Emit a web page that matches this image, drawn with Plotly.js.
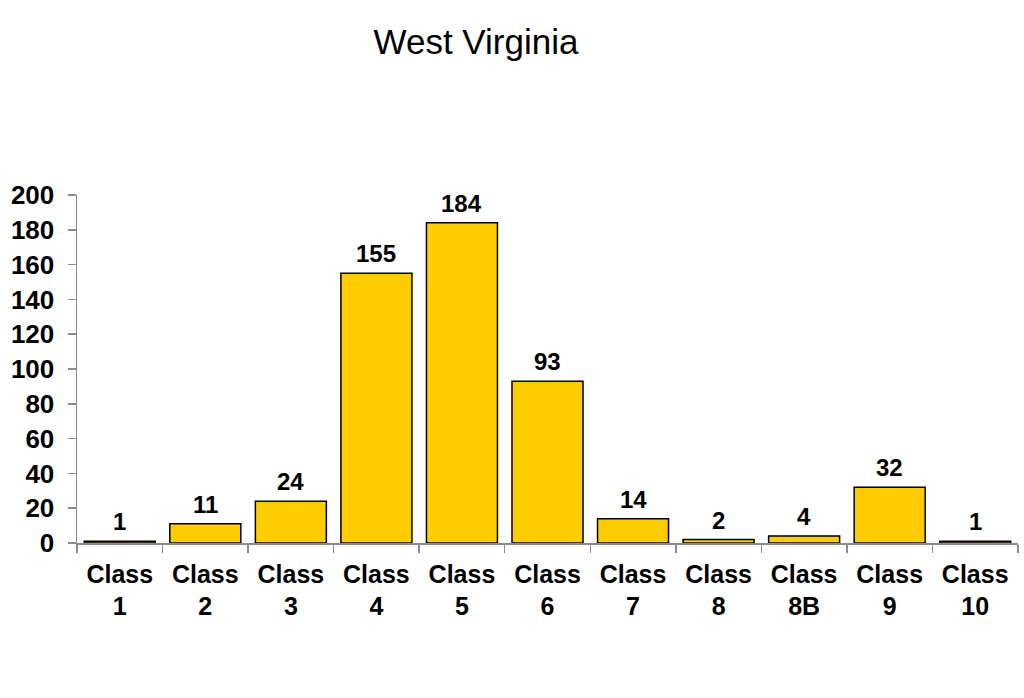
<!DOCTYPE html>
<html>
<head>
<meta charset="utf-8">
<script src="https://cdn.plot.ly/plotly-3.0.1.min.js"></script>
<style>html,body{margin:0;padding:0;background:#fff;}#chart{width:1024px;height:698px;}</style>
</head>
<body>
<div id="chart"></div>
<script>
const categories = ["Class<br>1","Class<br>2","Class<br>3","Class<br>4","Class<br>5","Class<br>6","Class<br>7","Class<br>8","Class<br>8B","Class<br>9","Class<br>10"];
const values = [1, 11, 24, 155, 184, 93, 14, 2, 4, 32, 1];
const yTicks = [0, 20, 40, 60, 80, 100, 120, 140, 160, 180, 200];

const FONT = "Liberation Sans, Arial, sans-serif";

const trace = {
  type: "bar",
  x: categories,
  y: values,
  marker: {color: "#FFCC00", line: {color: "#000000", width: 1.5}},
  hoverinfo: "none"
};

const annotations = values.map((v, i) => ({
  x: categories[i], y: v, xref: "x", yref: "y",
  text: "<b>" + v + "</b>", showarrow: false,
  yanchor: "bottom", yshift: 4,
  font: {family: FONT, size: 24, color: "#000"}
}));

const layout = {
  width: 1024, height: 698,
  margin: {l: 77, r: 6, t: 195, b: 155},
  paper_bgcolor: "#fff", plot_bgcolor: "#fff",
  showlegend: false,
  bargap: 0.17,
  title: {text: "West Virginia", x: 476/1024, xref: "container", xanchor: "center", y: 0.94, yanchor: "middle",
          font: {family: FONT, size: 35, color: "#000"}},
  xaxis: {
    type: "category",
    showline: true, linecolor: "#8c8c8c", linewidth: 1.5,
    ticks: "outside", tickson: "boundaries", ticklen: 8, tickcolor: "#8c8c8c", tickwidth: 1.5,
    showgrid: false, zeroline: false,
    tickfont: {family: FONT, size: 25, color: "#000", weight: "bold"},
    ticklabelstandoff: 8
  },
  yaxis: {
    range: [0, 200], tickvals: yTicks, ticktext: yTicks.map(String),
    showline: true, linecolor: "#8c8c8c", linewidth: 1.5,
    ticks: "outside", ticklen: 8, tickcolor: "#8c8c8c", tickwidth: 1.5,
    showgrid: false, zeroline: false,
    tickfont: {family: FONT, size: 26, color: "#000", weight: "bold"},
    ticklabelstandoff: 8
  },
  annotations: annotations
};

Plotly.newPlot("chart", [trace], layout, {staticPlot: true, displayModeBar: false});
</script>
</body>
</html>
